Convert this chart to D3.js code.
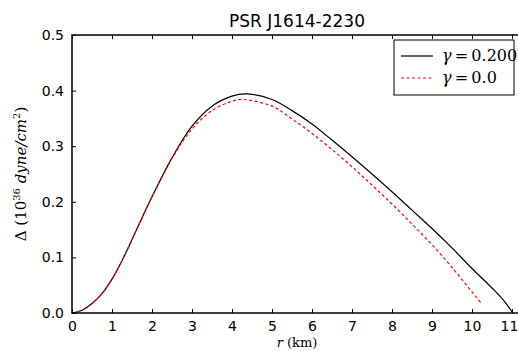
<!DOCTYPE html>
<html>
<head>
<meta charset="utf-8">
<script src="https://cdn.jsdelivr.net/npm/d3@7"></script>
<style>
  body { margin: 0; background: #fff; }
  svg text { font-family: "DejaVu Sans", sans-serif; }
  .math { font-family: "DejaVu Serif", serif; }
</style>
</head>
<body>
<svg id="chart" width="518" height="351"></svg>
<script>
// r (km) samples and pressure anisotropy Δ (10^36 dyne/cm^2)
const rGamma02 = [0, 0.25, 0.5, 0.75, 1, 1.25, 1.5, 1.75, 2, 2.5, 3, 3.5, 4, 4.35, 5, 5.5, 6, 6.5, 7, 7.5, 8, 8.5, 9, 9.5, 10, 10.5, 10.8, 11.02];
const dGamma02 = [0, 0.005, 0.017, 0.035, 0.061, 0.094, 0.132, 0.171, 0.209, 0.279, 0.336, 0.372, 0.39, 0.394, 0.384, 0.364, 0.34, 0.311, 0.281, 0.25, 0.218, 0.185, 0.152, 0.117, 0.08, 0.045, 0.022, 0];

const rGamma00 = [0, 0.25, 0.5, 0.75, 1, 1.25, 1.5, 1.75, 2, 2.5, 3, 3.5, 4, 4.28, 5, 5.5, 6, 6.5, 7, 7.5, 8, 8.5, 9, 9.5, 10, 10.25];
const dGamma00 = [0, 0.005, 0.017, 0.035, 0.061, 0.094, 0.132, 0.171, 0.209, 0.278, 0.331, 0.364, 0.381, 0.384, 0.372, 0.349, 0.323, 0.294, 0.263, 0.23, 0.196, 0.16, 0.123, 0.082, 0.038, 0.016];

const xTicks = d3.range(0, 12, 1);
const yTicks = [0, 0.1, 0.2, 0.3, 0.4, 0.5];

const svg = d3.select("#chart");
const margin = {top: 35, right: -4, bottom: 38, left: 72},
    width = 518 - margin.left - margin.right,
    height = 351 - margin.top - margin.bottom;

const x = d3.scaleLinear().domain([0, 11.25]).range([0, width]);
const y = d3.scaleLinear().domain([0, 0.5]).range([height, 0]);

const g = svg.append("g")
    .attr("transform", "translate(" + margin.left + "," + margin.top + ")");

// curves
const line = d3.line()
    .x(d => x(d[0]))
    .y(d => y(d[1]))
    .curve(d3.curveCatmullRom.alpha(0.5));

g.append("path")
    .datum(d3.zip(rGamma02, dGamma02))
    .attr("d", line)
    .attr("fill", "none")
    .attr("stroke", "black")
    .attr("stroke-width", 1.2);

g.append("path")
    .datum(d3.zip(rGamma00, dGamma00))
    .attr("d", line)
    .attr("fill", "none")
    .attr("stroke", "red")
    .attr("stroke-width", 1.2)
    .attr("stroke-dasharray", "3,2.5");

// axes, inward ticks on all four sides
const tickLen = 4;
g.append("g")
    .attr("transform", "translate(0," + height + ")")
    .call(d3.axisBottom(x).tickValues(xTicks).tickFormat(d3.format("d"))
        .tickSizeInner(-tickLen).tickSizeOuter(0).tickPadding(8))
    .call(a => a.select(".domain").remove())
    .selectAll("text").attr("font-size", 14).attr("font-family", "DejaVu Sans")
    .attr("dx", d => d === 11 ? -3 : 0);

g.append("g")
    .call(d3.axisTop(x).tickValues(xTicks).tickFormat("")
        .tickSizeInner(-tickLen).tickSizeOuter(0))
    .call(a => a.select(".domain").remove());

g.append("g")
    .call(d3.axisLeft(y).tickValues(yTicks).tickFormat(d3.format(".1f"))
        .tickSizeInner(-tickLen).tickSizeOuter(0).tickPadding(8))
    .call(a => a.select(".domain").remove())
    .selectAll("text").attr("font-size", 14).attr("font-family", "DejaVu Sans");

g.append("g")
    .attr("transform", "translate(" + width + ",0)")
    .call(d3.axisRight(y).tickValues(yTicks).tickFormat("")
        .tickSizeInner(-tickLen).tickSizeOuter(0))
    .call(a => a.select(".domain").remove());

g.append("rect")
    .attr("width", width)
    .attr("height", height)
    .attr("fill", "none")
    .attr("stroke", "black")
    .attr("stroke-width", 1.5);

// title
svg.append("text")
    .attr("x", margin.left + width / 2)
    .attr("y", 27)
    .attr("text-anchor", "middle")
    .attr("font-size", 17)
    .text("PSR J1614-2230");

// x label
const xl = svg.append("text")
    .attr("class", "math")
    .attr("x", margin.left + width / 2)
    .attr("y", 347)
    .attr("text-anchor", "middle")
    .attr("font-size", 13);
xl.append("tspan").attr("font-style", "italic").text("r");
xl.append("tspan").text(" (km)");

// y label
const yl = svg.append("text")
    .attr("class", "math")
    .attr("transform", "translate(26," + (margin.top + height / 2) + ") rotate(-90)")
    .attr("text-anchor", "middle")
    .attr("font-size", 15);
yl.append("tspan").text("Δ (10");
yl.append("tspan").attr("font-size", 10).attr("dy", -6).text("36");
yl.append("tspan").attr("dy", 6).text("  ");
yl.append("tspan").attr("font-style", "italic").text("dyne/cm");
yl.append("tspan").attr("font-size", 10).attr("dy", -6).text("2");
yl.append("tspan").attr("dy", 6).text(")");

// legend
const legend = svg.append("g").attr("transform", "translate(394,40)");
legend.append("rect")
    .attr("width", 120)
    .attr("height", 55)
    .attr("fill", "white")
    .attr("stroke", "black")
    .attr("stroke-width", 1);

const entries = [
    {label: "0.200", color: "black", dash: null},
    {label: "0.0", color: "red", dash: "3,2.5"}
];
entries.forEach((e, i) => {
    const yy = 16 + i * 22;
    legend.append("line")
        .attr("x1", 7).attr("x2", 39)
        .attr("y1", yy).attr("y2", yy)
        .attr("stroke", e.color)
        .attr("stroke-width", 1.2)
        .attr("stroke-dasharray", e.dash);
    const t = legend.append("text")
        .attr("class", "math")
        .attr("x", 48)
        .attr("y", yy + 5)
        .attr("font-size", 16);
    t.append("tspan").attr("font-style", "italic").text("γ");
    t.append("tspan").text("\u2009=\u2009" + e.label);
});
</script>
</body>
</html>
